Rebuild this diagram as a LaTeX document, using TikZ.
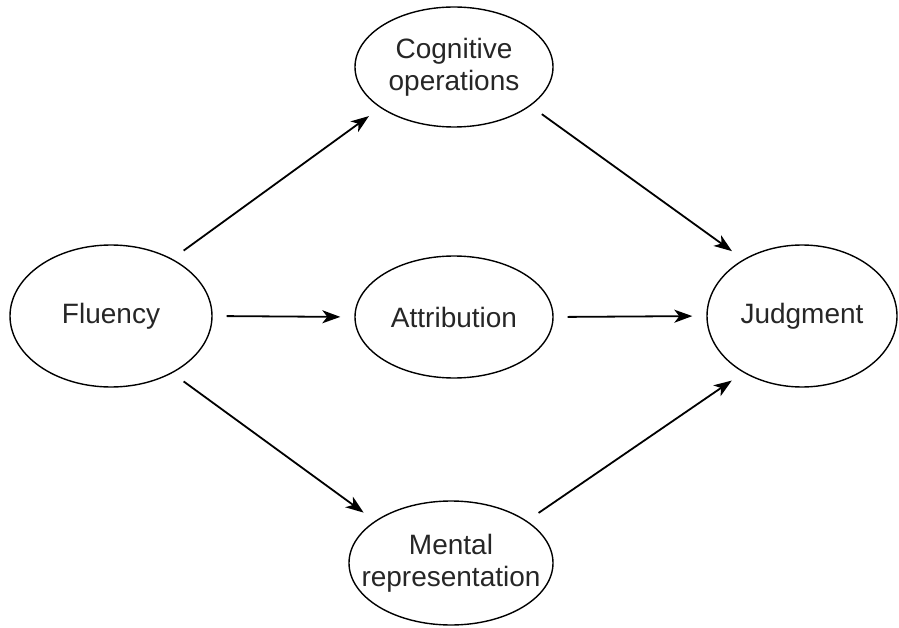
\documentclass[tikz,border=0pt]{standalone}
\usepackage{fontspec}
\setmainfont{Liberation Sans}
\usetikzlibrary{shapes.geometric,arrows.meta}
\begin{document}
\begin{tikzpicture}[x=1pt,y=-1pt,
  oval/.style={ellipse,draw,line width=1.4pt,inner sep=0pt,align=center,
    text=black!85,font=\fontsize{28}{32}\selectfont},
  arr/.style={line width=1.8pt,-{Stealth[length=18pt,width=13pt,inset=5pt]},
    shorten <=14pt,shorten >=14pt}]
\useasboundingbox (0,0) rectangle (899,628);
\node[oval,minimum width=202pt,minimum height=142pt] (fl) at (111,316) {Fluency};
\node[oval,minimum width=198pt,minimum height=120pt] (co) at (454,67) {Cognitive\\operations};
\node[oval,minimum width=198pt,minimum height=122pt] (at) at (454,317) {Attribution};
\node[oval,inner xsep=-20pt,minimum width=204pt,minimum height=124pt] (me) at (451,563) {Mental\\representation};
\node[oval,minimum width=190pt,minimum height=142pt] (ju) at (802,316) {Judgment};
\draw[arr] (fl.43) -- (co.209);
\draw[arr] (fl.-43) -- (me.151);
\draw[arr] (fl.east) -- (at.west);
\draw[arr] (at.east) -- (ju.west);
\draw[arr] (co.-27) -- (ju.136);
\draw[arr] (me.29) -- (ju.-136);
\end{tikzpicture}
\end{document}
